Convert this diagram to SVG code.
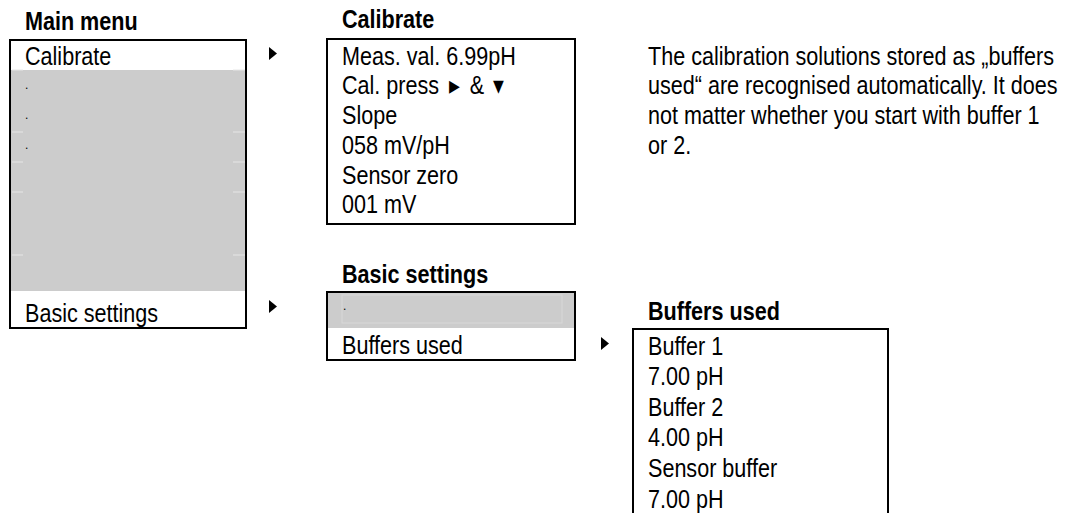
<svg xmlns="http://www.w3.org/2000/svg" width="1077" height="513" viewBox="0 0 1077 513">
<style>
text{font-family:"Liberation Sans",Arial,sans-serif;font-size:26px;fill:#000}
.t{font-weight:bold}
.d{font-size:12px}
.box{fill:none;stroke:#000;stroke-width:2}
.g{fill:#cccccc}
.tick{stroke:#e6e6e6;stroke-width:1}
.arr{fill:#000}
</style>
<rect width="1077" height="513" fill="#fff"/>
<g id="main-menu">
<text class="t" transform="matrix(.83 0 0 1 25 30)">Main menu</text>
<rect class="g" x="10" y="70" width="236" height="221"/>
<line class="tick" x1="12" y1="70" x2="23" y2="70"/><line class="tick" x1="233" y1="70" x2="245" y2="70"/>
<line class="tick" x1="12" y1="132" x2="23" y2="132"/><line class="tick" x1="233" y1="132" x2="245" y2="132"/>
<line class="tick" x1="12" y1="162" x2="23" y2="162"/><line class="tick" x1="233" y1="162" x2="245" y2="162"/>
<line class="tick" x1="12" y1="192" x2="23" y2="192"/><line class="tick" x1="233" y1="192" x2="245" y2="192"/>
<line class="tick" x1="12" y1="255" x2="23" y2="255"/><line class="tick" x1="233" y1="255" x2="245" y2="255"/>
<rect class="box" x="10" y="40" width="236" height="288"/>
<text transform="matrix(.83 0 0 1 25 65)">Calibrate</text>
<text class="d" x="25" y="89">.</text>
<text class="d" x="25" y="119">.</text>
<text class="d" x="25" y="149">.</text>
<text transform="matrix(.83 0 0 1 25 322)">Basic settings</text>
</g>
<g id="calibrate">
<text class="t" transform="matrix(.83 0 0 1 342 28)">Calibrate</text>
<rect class="box" x="327" y="39" width="248" height="185"/>
<text transform="matrix(.83 0 0 1 342 65)">Meas. val. 6.99pH</text>
<text transform="matrix(.83 0 0 1 342 94)">Cal. press<tspan dx="12">▸</tspan><tspan dx="12">&amp;</tspan><tspan dx="10">▾</tspan></text>
<text transform="matrix(.83 0 0 1 342 124)">Slope</text>
<text transform="matrix(.83 0 0 1 342 154)">058 mV/pH</text>
<text transform="matrix(.83 0 0 1 342 184)">Sensor zero</text>
<text transform="matrix(.83 0 0 1 342 213)">001 mV</text>
</g>
<g id="note">
<text transform="matrix(.83 0 0 1 648 65)">The calibration solutions stored as „buffers</text>
<text transform="matrix(.83 0 0 1 648 94)">used“ are recognised automatically. It does</text>
<text transform="matrix(.83 0 0 1 648 124)">not matter whether you start with buffer 1</text>
<text transform="matrix(.83 0 0 1 648 154)">or 2.</text>
</g>
<g id="basic-settings">
<text class="t" transform="matrix(.83 0 0 1 342 283)">Basic settings</text>
<rect class="g" x="327" y="292" width="248" height="36"/>
<rect x="342" y="295" width="220" height="28" fill="none" stroke="#d8d8d8" stroke-width="1"/>
<text class="d" x="343" y="310">.</text>
<rect class="box" x="327" y="292" width="248" height="68"/>
<text transform="matrix(.83 0 0 1 342 354)">Buffers used</text>
</g>
<g id="buffers-used">
<text class="t" transform="matrix(.83 0 0 1 648 320)">Buffers used</text>
<path class="box" d="M633,520 V329 H888 V520"/>
<text transform="matrix(.83 0 0 1 648 355)">Buffer 1</text>
<text transform="matrix(.83 0 0 1 648 385)">7.00 pH</text>
<text transform="matrix(.83 0 0 1 648 416)">Buffer 2</text>
<text transform="matrix(.83 0 0 1 648 446)">4.00 pH</text>
<text transform="matrix(.83 0 0 1 648 477)">Sensor buffer</text>
<text transform="matrix(.83 0 0 1 648 508)">7.00 pH</text>
</g>
<g id="connectors">
<polygon class="arr" points="269,47 277,53.5 269,60"/>
<polygon class="arr" points="269,300 277,306.5 269,313"/>
<polygon class="arr" points="601,337 609,343.5 601,350"/>
</g>
</svg>
